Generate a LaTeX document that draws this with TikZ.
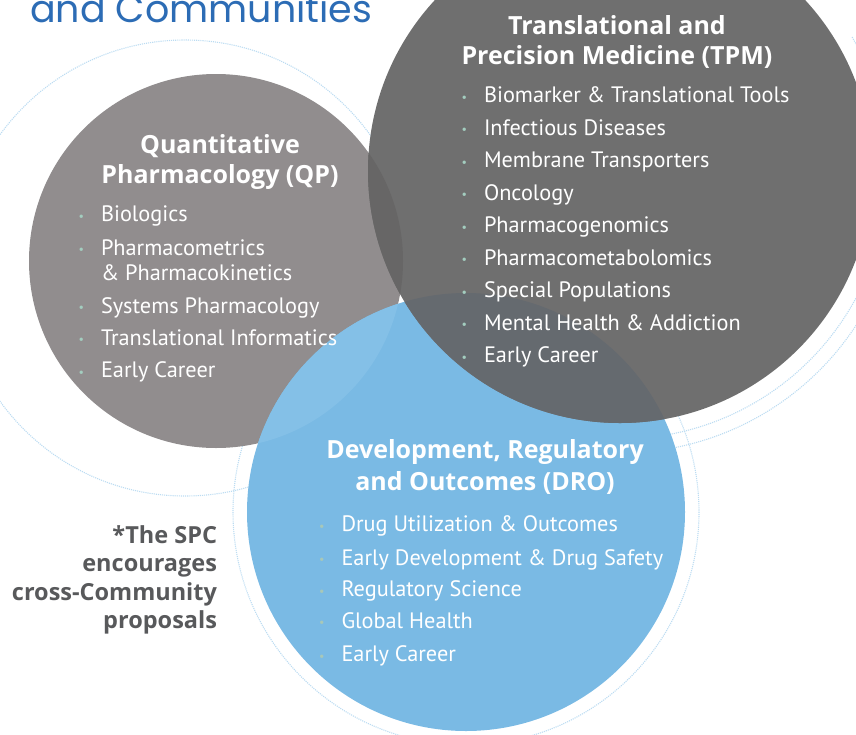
\documentclass[tikz,border=0pt]{standalone}
\usepackage{fontspec}
\setmainfont{PT Sans}
\newfontfamily\headfont{Poppins}
\newfontfamily\boldfont{Open Sans}
\usepackage{tikz}
\usetikzlibrary{positioning}

\definecolor{qpgray}{HTML}{918D8E}
\definecolor{tpmgray}{HTML}{6F6F6F}
\definecolor{droblue}{HTML}{7ABAE4}
\definecolor{qptpm}{HTML}{676666}
\definecolor{qpdro}{HTML}{84C0E7}
\definecolor{tpmdro}{HTML}{656A6F}
\definecolor{ringblue}{HTML}{BCDCF2}
\definecolor{dotgreen}{HTML}{A3CDBF}
\definecolor{dotpale}{HTML}{A8C8B8}
\definecolor{notegray}{HTML}{58595B}
\definecolor{titleblue}{HTML}{2C6CB5}

\newcommand{\dotmark}[1]{\llap{\raisebox{1.5pt}{\textcolor{#1}{\fontsize{12}{12}\selectfont\textbullet}}\hspace{17pt}}}

\begin{document}
\begin{tikzpicture}[x=1pt,y=-1pt,inner sep=0pt,outer sep=0pt]
  \tikzstyle{ring}=[draw=ringblue,densely dotted,line width=1.1pt]
  \tikzstyle{head}=[text=white,align=center,anchor=base,
                    font=\boldfont\bfseries\fontsize{25}{30}\selectfont]
  \tikzstyle{item}=[text=white,align=left,anchor=base west,
                    font=\fontsize{22.3}{25.7}\selectfont]

  \clip (0,0) rectangle (856,734);

  \coordinate (qpc)  at (216,261);
  \coordinate (tpmc) at (620,171);
  \coordinate (droc) at (466,512);

  % dotted rings behind
  \draw[ring] (185,268) circle [radius=228];
  \draw[ring] (droc) circle [radius=233];
  \draw[ring] (tpmc) ++(-30:268) arc [start angle=-30,end angle=80,radius=268];
  \draw[ring] (tpmc) ++(-30:282) arc [start angle=-30,end angle=80,radius=282];

  % the three communities
  \fill[qpgray]  (qpc)  circle [radius=187];
  \fill[droblue] (droc) circle [radius=219];
  \fill[tpmgray] (tpmc) circle [radius=252];
  \begin{scope}
    \clip (qpc) circle [radius=187];
    \fill[qpdro] (droc) circle [radius=219];
  \end{scope}
  \begin{scope}
    \clip (droc) circle [radius=219];
    \fill[tpmdro] (tpmc) circle [radius=252];
  \end{scope}
  \begin{scope}
    \clip (qpc) circle [radius=187];
    \fill[qptpm] (tpmc) circle [radius=252];
  \end{scope}

  \node[anchor=base west,text=titleblue,font=\headfont\fontsize{38}{38}\selectfont]
       (title) at (30,22) {and Communities};

  % QP (base = last line)
  \node[head] (qphead) at (220,183.3) {Quantitative\\Pharmacology (QP)};
  \node[item] (qp1) at (101,221.7) {\dotmark{dotgreen}Biologics};
  \node[item] (qp2) at (101,280.7) {\dotmark{dotgreen}Pharmacometrics\\\& Pharmacokinetics};
  \node[item] (qp3) at (101,313.3) {\dotmark{dotgreen}Systems Pharmacology};
  \node[item] (qp4) at (101,345)   {\dotmark{dotgreen}Translational Informatics};
  \node[item] (qp5) at (101,377.7) {\dotmark{dotgreen}Early Career};

  % TPM
  \node[head] (tpmhead) at (617,64) {Translational and\\Precision Medicine (TPM)};
  \node[item] (tpm1) at (484,102.7) {\dotmark{dotgreen}Biomarker \& Translational Tools};
  \node[item] (tpm2) at (484,135.2) {\dotmark{dotgreen}Infectious Diseases};
  \node[item] (tpm3) at (484,167.7) {\dotmark{dotgreen}Membrane Transporters};
  \node[item] (tpm4) at (484,200.2) {\dotmark{dotgreen}Oncology};
  \node[item] (tpm5) at (484,232.7) {\dotmark{dotgreen}Pharmacogenomics};
  \node[item] (tpm6) at (484,265.2) {\dotmark{dotgreen}Pharmacometabolomics};
  \node[item] (tpm7) at (484,297.7) {\dotmark{dotgreen}Special Populations};
  \node[item] (tpm8) at (484,330.2) {\dotmark{dotgreen}Mental Health \& Addiction};
  \node[item] (tpm9) at (484,362.7) {\dotmark{dotgreen}Early Career};

  % DRO
  \node[head] (drohead) at (485,490) {Development, Regulatory\\[2pt]and Outcomes (DRO)};
  \node[item] (dro1) at (341.5,531.7) {\dotmark{dotpale}Drug Utilization \& Outcomes};
  \node[item] (dro2) at (341.5,565)   {\dotmark{dotpale}Early Development \& Drug Safety};
  \node[item] (dro3) at (341.5,596.7) {\dotmark{dotpale}Regulatory Science};
  \node[item] (dro4) at (341.5,628.3) {\dotmark{dotpale}Global Health};
  \node[item] (dro5) at (341.5,661.7) {\dotmark{dotpale}Early Career};

  \node[anchor=base east,align=right,text=notegray,
        font=\boldfont\bfseries\fontsize{23.5}{28.3}\selectfont]
       (note) at (217,628.3) {*The SPC\\encourages\\cross-Community\\proposals};
\end{tikzpicture}
\end{document}
